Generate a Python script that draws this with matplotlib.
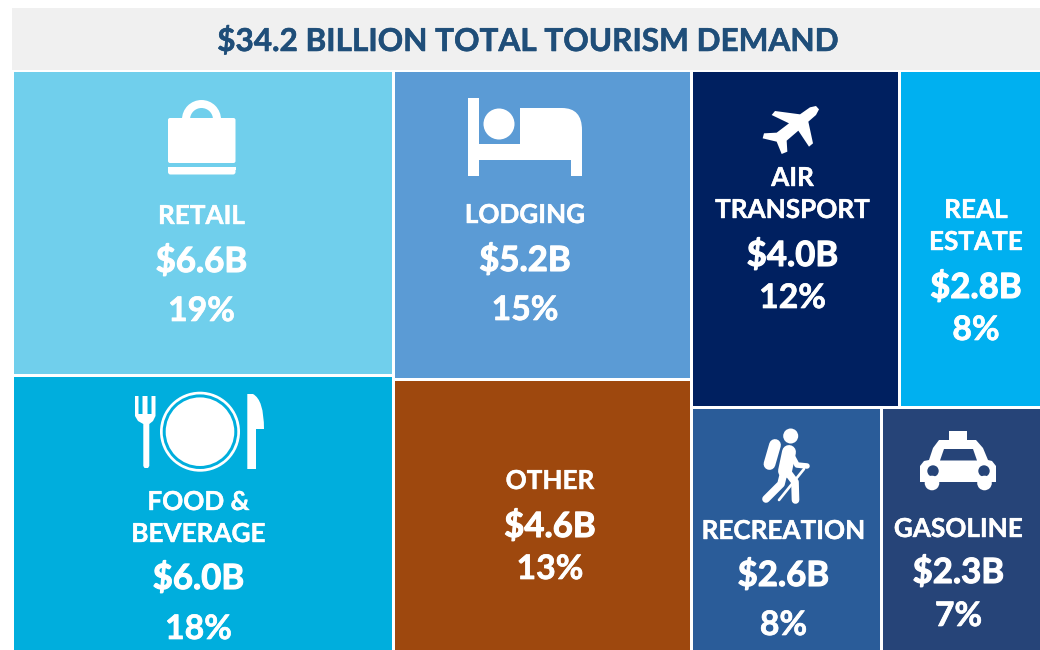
import matplotlib
matplotlib.use('Agg')
import matplotlib.pyplot as plt
import matplotlib.patches as patches
import matplotlib.patheffects as pe
from matplotlib.path import Path

plt.rcParams['font.family'] = ['Lato', 'DejaVu Sans']

title = '$34.2 BILLION TOTAL TOURISM DEMAND'

# tile values, slightly finer than the printed labels so areas fit the picture
col1_names = ['RETAIL', 'FOOD &\nBEVERAGE']
col1_values = [6.649, 6.049]
col1_shares = [19, 18]
col2_names = ['LODGING', 'OTHER']
col2_values = [5.249, 4.649]
col2_shares = [15, 13]
col3_top_names = ['AIR\nTRANSPORT', 'REAL\nESTATE']
col3_top_values = [4.0, 2.75]
col3_top_shares = [12, 8]
col3_bottom_names = ['RECREATION', 'GASOLINE']
col3_bottom_values = [2.649, 2.251]
col3_bottom_shares = [8, 7]

colors = {
    'RETAIL': '#70cfec', 'FOOD &\nBEVERAGE': '#00aedd', 'LODGING': '#5b9bd5',
    'OTHER': '#9e480e', 'AIR\nTRANSPORT': '#002060', 'REAL\nESTATE': '#00b0f0',
    'RECREATION': '#2a5c99', 'GASOLINE': '#264478',
}
# text centre x, then y of name line(s), value and percent
text_pos = {
    'RETAIL': (201.5, [215], 260, 309),
    'FOOD &\nBEVERAGE': (198.5, [501, 533], 577, 627),
    'LODGING': (525, [214], 259, 308),
    'OTHER': (550, [480], 525, 567),
    'AIR\nTRANSPORT': (792.5, [177, 209], 254, 296),
    'REAL\nESTATE': (976, [209, 241], 286, 328),
    'RECREATION': (783.5, [530], 574, 623),
    'GASOLINE': (958.5, [528], 571, 614),
}

X0, X1, Y0, Y1 = 12, 1042, 70, 653
WHITE = 'white'

fig = plt.figure(figsize=(10.4, 6.5), dpi=100, facecolor='white')
ax = fig.add_axes([0, 0, 1, 1])
ax.set_xlim(0, 1040)
ax.set_ylim(650, 0)
ax.axis('off')


def bold_text(x, y, s, size, stroke, color=WHITE):
    t = ax.text(x, y, s, color=color, fontsize=size, fontweight='bold', ha='center', va='baseline')
    t.set_path_effects([pe.withStroke(linewidth=stroke, foreground=color)])


def draw_tile(name, value, share, x, y, w, h):
    ax.add_patch(patches.Rectangle((x + 1.5, y + 1.5), w - 3, h - 3, facecolor=colors[name], edgecolor='none'))
    cx, name_ys, value_y, share_y = text_pos[name]
    for line, ly in zip(name.split('\n'), name_ys):
        bold_text(cx, ly + 9, line, 18.8, 0.3)
    bold_text(cx, value_y + 12, f'${value:.1f}B', 25, 0.8)
    bold_text(cx, share_y + 12, f'{share}%', 24.3, 0.5)


def white_poly(points, fc=WHITE):
    ax.add_patch(patches.Polygon(points, closed=True, facecolor=fc, edgecolor='none'))


def white_rect(x, y, w, h, fc=WHITE):
    ax.add_patch(patches.Rectangle((x, y), w, h, facecolor=fc, edgecolor='none'))


def thick_line(xs, ys, lw):
    ax.plot(xs, ys, color=WHITE, lw=lw, solid_capstyle='round', solid_joinstyle='round')


# title bar
white_rect(12, 8, 1028, 62, fc='#f0f0f0')
bold_text(527.5, 51, title, 22.7, 0.4, color='#1f4e79')

# treemap layout from the values
total = sum(col1_values) + sum(col2_values) + sum(col3_top_values) + sum(col3_bottom_values)
width = X1 - X0
height = Y1 - Y0

x = X0
for names, values, shares in [(col1_names, col1_values, col1_shares), (col2_names, col2_values, col2_shares)]:
    w = width * sum(values) / total
    y = Y0
    for n, v, s in zip(names, values, shares):
        h = height * v / sum(values)
        draw_tile(n, v, s, x, y, w, h)
        y += h
    x += w

w3 = X1 - x
col3_sum = sum(col3_top_values) + sum(col3_bottom_values)
y = Y0
for names, values, shares in [(col3_top_names, col3_top_values, col3_top_shares),
                              (col3_bottom_names, col3_bottom_values, col3_bottom_shares)]:
    h = height * sum(values) / col3_sum
    xx = x
    for n, v, s in zip(names, values, shares):
        tw = w3 * v / sum(values)
        draw_tile(n, v, s, xx, y, tw, h)
        xx += tw
    y += h

# --- icons ---
# bag
ax.add_patch(patches.Wedge((201.5, 119.5), 19.5, 180, 360, width=8, facecolor=WHITE, edgecolor='none'))
ax.add_patch(patches.FancyBboxPatch((168, 118), 67.5, 45, boxstyle='round,pad=0,rounding_size=2', facecolor=WHITE, edgecolor='none'))
ax.add_patch(patches.FancyBboxPatch((168, 167), 67.5, 7.5, boxstyle='round,pad=0,rounding_size=2.5', facecolor=WHITE, edgecolor='none'))
white_rect(168, 167, 67.5, 3)

# bed
white_rect(468, 98, 11, 78)
white_rect(468, 144, 114, 16)
white_rect(571, 150, 11, 26)
ax.add_patch(patches.Circle((499, 124), 15.5, facecolor=WHITE, edgecolor='none'))
mattress = Path([(520, 108), (562, 108), (582, 108), (582, 130), (582, 150), (520, 150), (520, 108)],
                [Path.MOVETO, Path.LINETO, Path.CURVE3, Path.CURVE3, Path.LINETO, Path.LINETO, Path.CLOSEPOLY])
ax.add_patch(patches.PathPatch(mattress, facecolor=WHITE, edgecolor='none'))

# plane
plane_pts = [(228, 48), (237, 58), (228, 75), (205, 95), (219, 160), (207, 170), (175, 122), (140, 152),
             (142, 185), (125, 192), (110, 155), (68, 145), (72, 130), (110, 128), (147, 100), (95, 75),
             (105, 63), (180, 73), (210, 52)]
white_poly([(740 + px / 3, 90 + py / 3) for px, py in plane_pts])

# fork
white_poly([(135, 396), (138.5, 396), (138.5, 414), (142.5, 414), (142.5, 396), (147.5, 396), (147.5, 414),
            (151.5, 414), (151.5, 396), (155.5, 396), (155.5, 416), (153, 421), (149.3, 424), (149.3, 466),
            (148, 468), (144.5, 468), (143.3, 466), (143.3, 424), (138, 421), (135, 416)])
# plate
ax.add_patch(patches.Circle((200, 431.7), 40, facecolor=WHITE, edgecolor='none'))
ax.add_patch(patches.Circle((200, 431.7), 37.3, facecolor=colors['FOOD &\nBEVERAGE'], edgecolor='none'))
ax.add_patch(patches.Circle((200, 431.7), 34.3, facecolor=WHITE, edgecolor='none'))
# knife
knife = Path([(247.3, 469), (247.3, 394), (253, 394), (264, 400), (264, 429), (256, 429), (256, 469), (247.3, 469)],
             [Path.MOVETO, Path.LINETO, Path.LINETO, Path.CURVE3, Path.CURVE3, Path.LINETO, Path.LINETO, Path.CLOSEPOLY])
ax.add_patch(patches.PathPatch(knife, facecolor=WHITE, edgecolor='none'))

# hiker
ax.add_patch(patches.Circle((790.7, 436), 7.5, facecolor=WHITE, edgecolor='none'))
thick_line([775, 769.5], [445, 464], 8.5)
ax.add_patch(patches.Circle((774.5, 442.5), 1.6, facecolor=colors['RECREATION'], edgecolor='none'))
thick_line([789, 785], [452, 471], 10)
thick_line([784, 781, 766], [472, 484, 499], 5.5)
thick_line([786, 795, 795.5], [470, 482, 500], 5.5)
thick_line([790, 797, 807], [452, 465, 466], 4)
thick_line([804, 779], [469, 500], 1.9)

# taxi
white_rect(949, 431, 18, 10)
white_poly([(920, 466), (924, 461), (929, 460), (933, 448), (939, 440), (976, 440), (983, 448), (988, 460),
            (992, 461), (996, 466), (996, 482), (920, 482)])
white_poly([(944, 449), (973, 449), (977, 460.5), (940, 460.5)], fc=colors['GASOLINE'])
ax.add_patch(patches.Circle((933, 471), 5.7, facecolor=colors['GASOLINE'], edgecolor='none'))
ax.add_patch(patches.Circle((984, 471), 5.7, facecolor=colors['GASOLINE'], edgecolor='none'))
ax.add_patch(patches.Circle((932, 483), 7.3, facecolor=WHITE, edgecolor='none'))
ax.add_patch(patches.Circle((984.5, 483), 7.3, facecolor=WHITE, edgecolor='none'))

plt.savefig('out.png', dpi=100, facecolor='white')
plt.close()
